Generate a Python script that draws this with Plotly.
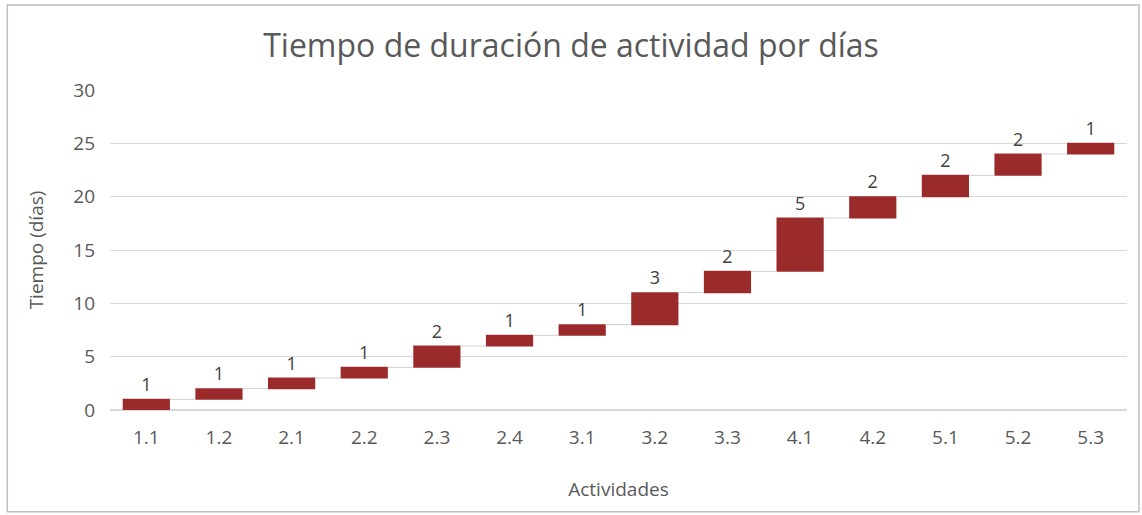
import plotly.graph_objects as go

categories = ["1.1", "1.2", "2.1", "2.2", "2.3", "2.4", "3.1", "3.2", "3.3", "4.1", "4.2", "5.1", "5.2", "5.3"]
durations = [1, 1, 1, 1, 2, 1, 1, 3, 2, 5, 2, 2, 2, 1]
y_ticks = [0, 5, 10, 15, 20, 25, 30]

FONT = "Open Sans"
GREY = "#595959"

fig = go.Figure(go.Waterfall(
    x=categories,
    y=durations,
    measure=["relative"] * len(durations),
    text=[str(v) for v in durations],
    textposition="outside",
    textfont=dict(family=FONT, size=18, color="#404040"),
    increasing=dict(marker=dict(color="#9B2A2B", line=dict(color="#9B2A2B", width=0))),
    connector=dict(mode="between", line=dict(color="#D0D0D0", width=1)),
    cliponaxis=False,
    hoverinfo="x+y",
))

fig.update_layout(
    width=1142, height=515,
    margin=dict(l=110, r=15, t=90, b=105),
    paper_bgcolor="white", plot_bgcolor="white",
    showlegend=False,
    waterfallgap=0.35,
    title=dict(text="Tiempo de duración de actividad por días", x=0.5, xanchor="center",
               y=0.912, yanchor="middle",
               font=dict(family=FONT, size=32, color=GREY)),
    xaxis=dict(showgrid=False, showline=False, zeroline=False, ticks="", automargin=False,
               tickfont=dict(family=FONT, size=19, color=GREY), ticklabelstandoff=14,
               title=dict(text="Actividades", font=dict(family=FONT, size=19, color=GREY), standoff=33)),
    yaxis=dict(range=[0, 30], tickvals=y_ticks, showgrid=True, gridcolor="#D9D9D9", gridwidth=1,
               zeroline=True, zerolinecolor="#D9D9D9", showline=False, ticks="", automargin=False,
               tickfont=dict(family=FONT, size=19, color=GREY), ticklabelstandoff=14,
               title=dict(text="Tiempo (días)", font=dict(family=FONT, size=19, color=GREY), standoff=24)),
    shapes=[dict(type="rect", xref="paper", yref="paper", x0=-0.101, x1=1.0118, y0=-0.318, y1=1.266,
                 line=dict(color="#BFBFBF", width=1.5), fillcolor="rgba(0,0,0,0)", layer="below")],
)

fig.write_html("out.html", config={"displayModeBar": False},
               post_script="document.body.style.margin='0';document.body.style.overflow='hidden';")
